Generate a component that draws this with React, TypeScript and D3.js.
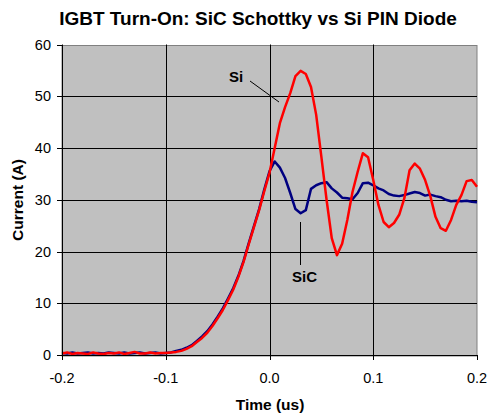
import React from 'react';
import * as d3 from 'd3';

// sample times (us)
const time = [
  -0.2, -0.195, -0.19, -0.185, -0.18, -0.175, -0.17, -0.165, -0.16, -0.155,
  -0.15, -0.145, -0.14, -0.135, -0.13, -0.125, -0.12, -0.115, -0.11, -0.105,
  -0.1, -0.095, -0.09, -0.085, -0.08, -0.075, -0.07, -0.065, -0.06, -0.055,
  -0.05, -0.045, -0.04, -0.035, -0.03, -0.025, -0.02, -0.015, -0.01, -0.005,
  0, 0.005, 0.01, 0.015, 0.02, 0.025, 0.03, 0.035, 0.04, 0.045,
  0.05, 0.055, 0.06, 0.065, 0.07, 0.075, 0.08, 0.085, 0.09, 0.095,
  0.1, 0.105, 0.11, 0.115, 0.12, 0.125, 0.13, 0.135, 0.14, 0.145,
  0.15, 0.155, 0.16, 0.165, 0.17, 0.175, 0.18, 0.185, 0.19, 0.195, 0.2
];

// Si PIN diode current (A)
const siCurrent = [
  0.3, 0.5, 0.2, 0.4, 0.3, 0.2, 0.5, 0.3, 0.2, 0.4,
  0.3, 0.5, 0.2, 0.4, 0.6, 0.3, 0.3, 0.5, 0.3, 0.4,
  0.4, 0.5, 0.6, 0.8, 1.2, 1.7, 2.5, 3.3, 4.3, 5.6,
  7.1, 8.7, 10.6, 12.6, 15.1, 18.0, 21.4, 24.7, 28.0, 31.7,
  35.2, 40.0, 44.8, 47.9, 50.6, 53.9, 54.9, 54.3, 51.8, 46.4,
  38.3, 30.0, 22.6, 19.3, 21.5, 26.1, 31.5, 35.4, 39.0, 38.2,
  33.8, 29.0, 25.7, 24.7, 25.5, 27.1, 30.3, 35.7, 37.0, 36.0,
  33.8, 30.7, 26.7, 24.5, 24.0, 26.1, 29.0, 30.9, 33.6, 33.8, 32.5
];

// SiC Schottky diode current (A)
const sicCurrent = [
  0.4, 0.3, 0.5, 0.3, 0.4, 0.5, 0.3, 0.4, 0.3, 0.5,
  0.4, 0.3, 0.5, 0.3, 0.4, 0.5, 0.3, 0.4, 0.5, 0.3,
  0.4, 0.5, 0.8, 1.0, 1.4, 1.9, 2.7, 3.6, 4.6, 5.9,
  7.4, 9.0, 10.9, 12.9, 15.3, 18.2, 21.6, 24.9, 28.2, 32.0,
  35.5, 37.4, 36.2, 34.2, 31.3, 28.2, 27.4, 28.0, 32.1, 32.8,
  33.2, 33.4, 32.2, 31.4, 30.4, 30.3, 30.1, 31.3, 33.2, 33.3,
  32.8, 32.2, 31.8, 31.1, 30.8, 30.7, 30.9, 31.2, 31.5, 31.3,
  30.8, 31.0, 30.7, 30.5, 30.0, 29.7, 29.8, 29.7, 29.8, 29.6, 29.5
];

const xTicks = [-0.2, -0.1, 0.0, 0.1, 0.2];
const yTicks = [0, 10, 20, 30, 40, 50, 60];

const WIDTH = 489;
const HEIGHT = 415;
const plot = { left: 62, right: 477, top: 44.5, bottom: 355 };
const FONT = 'Arial, "Liberation Sans", sans-serif';

export default function App() {
  const x = d3.scaleLinear().domain([-0.2, 0.2]).range([plot.left, plot.right]);
  const y = d3.scaleLinear().domain([0, 60]).range([plot.bottom, plot.top]);
  const crisp = (v: number) => Math.round(v) + 0.5;

  const line = d3
    .line<number>()
    .x((_, i) => x(time[i]))
    .y(d => y(d))
    .curve(d3.curveLinear);

  return (
    <svg
      width={WIDTH}
      height={HEIGHT}
      style={{ position: 'absolute', left: 0, top: 0, background: '#fff' }}
      fontFamily={FONT}
    >
      {/* title */}
      <text x={258} y={24.5} fontSize={19} fontWeight="bold" textAnchor="middle">
        IGBT Turn-On: SiC Schottky vs Si PIN Diode
      </text>

      {/* plot area */}
      <rect
        x={plot.left}
        y={crisp(plot.top)}
        width={plot.right - plot.left}
        height={plot.bottom - plot.top}
        fill="#C0C0C0"
        stroke="#808080"
        strokeWidth={1}
      />

      {/* grid */}
      {yTicks.slice(1, -1).map(d => (
        <line
          key={'gy' + d}
          x1={plot.left}
          x2={plot.right}
          y1={crisp(y(d))}
          y2={crisp(y(d))}
          stroke="#000"
        />
      ))}
      {xTicks.slice(1, -1).map(d => (
        <line
          key={'gx' + d}
          x1={crisp(x(d))}
          x2={crisp(x(d))}
          y1={plot.top}
          y2={plot.bottom}
          stroke="#000"
        />
      ))}

      {/* series */}
      <path d={line(sicCurrent) || ''} fill="none" stroke="#000080" strokeWidth={2.5} strokeLinejoin="round" />
      <path d={line(siCurrent) || ''} fill="none" stroke="#FF0000" strokeWidth={2.5} strokeLinejoin="round" />

      {/* axes */}
      <line x1={crisp(plot.left)} x2={crisp(plot.left)} y1={plot.top} y2={plot.bottom} stroke="#000" />
      <line x1={plot.left} x2={plot.right + 1} y1={crisp(plot.bottom)} y2={crisp(plot.bottom)} stroke="#000" />

      {yTicks.map(d => (
        <g key={'ty' + d}>
          <line x1={plot.left - 5} x2={plot.left} y1={crisp(y(d))} y2={crisp(y(d))} stroke="#000" />
          <text x={51} y={y(d) + 5} fontSize={14.5} textAnchor="end">
            {d}
          </text>
        </g>
      ))}
      {xTicks.map(d => (
        <g key={'tx' + d}>
          <line x1={crisp(x(d))} x2={crisp(x(d))} y1={plot.bottom} y2={plot.bottom + 5} stroke="#000" />
          <text x={x(d)} y={383} fontSize={14.5} textAnchor="middle">
            {d.toFixed(1)}
          </text>
        </g>
      ))}

      {/* axis titles */}
      <text x={270} y={410} fontSize={15.5} fontWeight="bold" textAnchor="middle">
        Time (us)
      </text>
      <text
        transform="translate(23,200) rotate(-90)"
        fontSize={15.5}
        fontWeight="bold"
        textAnchor="middle"
      >
        Current (A)
      </text>

      {/* annotations */}
      <text x={229} y={82} fontSize={15} fontWeight="bold">
        Si
      </text>
      <line x1={250} y1={81} x2={279} y2={102} stroke="#000" />
      <text x={292} y={281.5} fontSize={15} fontWeight="bold">
        SiC
      </text>
      <line x1={300.5} y1={222} x2={300.5} y2={265} stroke="#000" />
    </svg>
  );
}
